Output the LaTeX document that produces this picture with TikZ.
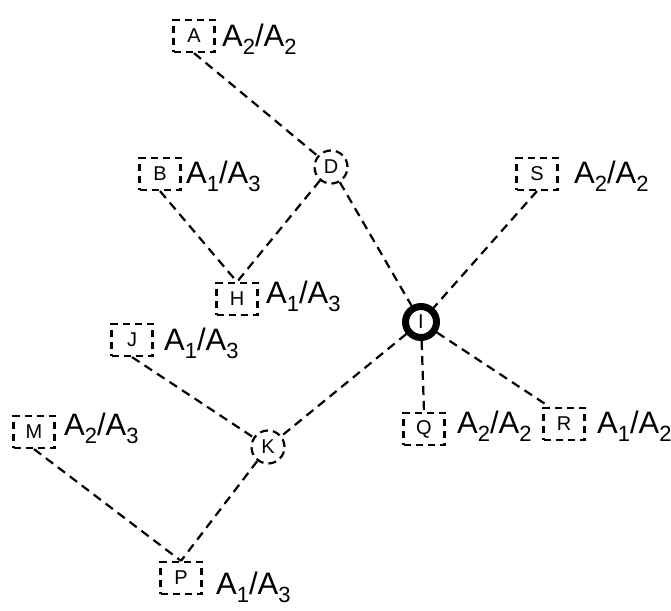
\documentclass[tikz,border=0pt]{standalone}
\usepackage{fontspec}
\setmainfont{Liberation Sans}
\newcommand{\lowidx}[1]{\raisebox{-8pt}{\fontsize{22}{22}\selectfont #1}}
\tikzset{
  leaf/.style={
    rectangle,
    draw=black,
    line width=2.2pt,
    dash pattern=on 7pt off 5pt,
    minimum width=41pt,
    minimum height=32pt,
    inner sep=0pt,
    font=\fontsize{20}{20}\selectfont
  },
  junction/.style={
    circle,
    draw=black,
    line width=2.2pt,
    dash pattern=on 8pt off 5pt,
    minimum size=33pt,
    inner sep=0pt,
    font=\fontsize{20}{20}\selectfont
  },
  root/.style={
    circle,
    draw=black,
    line width=7pt,
    minimum size=31pt,
    inner sep=0pt,
    font=\fontsize{20}{20}\selectfont
  },
  ratio/.style={
    anchor=base west,
    inner sep=0pt,
    font=\fontsize{31}{31}\selectfont
  },
  link/.style={
    line width=2.2pt,
    dash pattern=on 9pt off 6pt
  },
}

\begin{document}
\begin{tikzpicture}[x=1pt, y=-1pt]
  \useasboundingbox (0,0) rectangle (671,610);

  % Leaves
  \node (a) [leaf] at (194,36) {A};
  \node (b) [leaf] at (160,174) {B};
  \node (s) [leaf] at (537,174) {S};
  \node (h) [leaf] at (237,299) {H};
  \node (j) [leaf] at (132,340) {J};
  \node (m) [leaf] at (34,432) {M};
  \node (q) [leaf] at (424,429) {Q};
  \node (r) [leaf] at (564,424) {R};
  \node (p) [leaf] at (181,578) {P};

  % Inner junctions and the root
  \node (d) [junction] at (331,167) {D};
  \node (k) [junction] at (268,447) {K};
  \node (i) [root] at (421,322) {I};

  % Ratios next to the leaves
  \node (a_r) [ratio] at (222,47) {A\lowidx{2}/A\lowidx{2}};
  \node (b_r) [ratio] at (186,183) {A\lowidx{1}/A\lowidx{3}};
  \node (s_r) [ratio] at (574,183) {A\lowidx{2}/A\lowidx{2}};
  \node (h_r) [ratio] at (266,303) {A\lowidx{1}/A\lowidx{3}};
  \node (j_r) [ratio] at (164,350) {A\lowidx{1}/A\lowidx{3}};
  \node (m_r) [ratio] at (64,435) {A\lowidx{2}/A\lowidx{3}};
  \node (q_r) [ratio] at (457,433) {A\lowidx{2}/A\lowidx{2}};
  \node (r_r) [ratio] at (597,433) {A\lowidx{1}/A\lowidx{2}};
  \node (p_r) [ratio] at (216,594) {A\lowidx{1}/A\lowidx{3}};

  % Links
  \draw [link] (a.south) -- (d);
  \draw [link] (b.south) -- (h.north);
  \draw [link] (d) -- (h.north);
  \draw [link] (d) -- (i);
  \draw [link] (s.south) -- (i);
  \draw [link] (i) -- (q.north);
  \draw [link] (i) -- (r.130);
  \draw [link] (i) -- (k);
  \draw [link] (j.south) -- (k);
  \draw [link] (k) -- (p.north);
  \draw [link] (m.south) -- (p.north);

\end{tikzpicture}
\end{document}
